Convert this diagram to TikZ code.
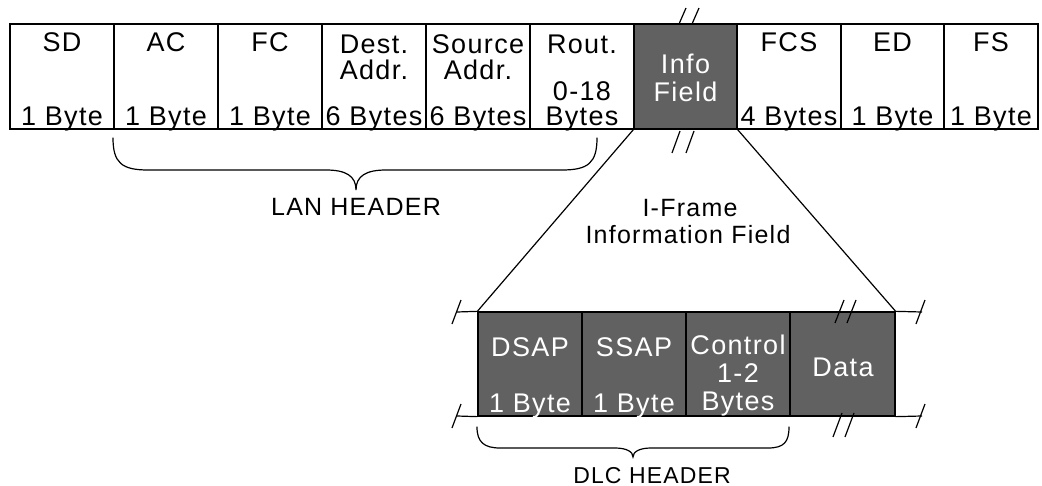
\documentclass[tikz,border=0pt]{standalone}
\usepackage{fontspec}
\setmainfont{Liberation Sans}[LetterSpace=5]
\begin{document}
\begin{tikzpicture}[x=1pt,y=-1pt,
  fieldbox/.style={draw=black, line width=1.3pt, minimum height=105pt, inner sep=0pt, fill=white},
  darkbox/.style={draw=black, line width=1.3pt, minimum height=104pt, inner sep=0pt, fill=black!62},
  lowbox/.style={darkbox, minimum width=104pt},
  lbl/.style={anchor=base, inner sep=0pt, font=\fontsize{27}{32}\selectfont},
  wlbl/.style={lbl, text=white},
  captext/.style={anchor=base, inner sep=0pt, font=\fontsize{25}{30}\selectfont},
  smallcap/.style={anchor=base, inner sep=0pt, font=\fontsize{23}{28}\selectfont},
  ln/.style={line width=1.2pt},
  brace/.style={line width=1.2pt, line cap=round}
]
\useasboundingbox (0,0) rectangle (1042,486);

% ---- top row ----
\node[fieldbox, minimum width=104pt] (sd)  at (62,76.5) {};
\node[fieldbox, minimum width=104pt] (ac)  at (166,76.5) {};
\node[fieldbox, minimum width=104pt] (fc)  at (270,76.5) {};
\node[fieldbox, minimum width=104pt] (da)  at (374,76.5) {};
\node[fieldbox, minimum width=104pt] (sa)  at (478,76.5) {};
\node[fieldbox, minimum width=104pt] (rt)  at (582,76.5) {};
\node[darkbox,  minimum width=103pt, minimum height=105pt] (info) at (685.5,76.5) {};
\node[fieldbox, minimum width=104pt] (fcs) at (789,76.5) {};
\node[fieldbox, minimum width=103pt] (ed)  at (892.5,76.5) {};
\node[fieldbox, minimum width=94pt]  (fs)  at (991,76.5) {};

\node[lbl] (sdt) at (62,52) {SD};
\node[lbl] (sdb) at (62,126) {1 Byte};
\node[lbl] (act) at (166,52) {AC};
\node[lbl] (acb) at (166,126) {1 Byte};
\node[lbl] (fct) at (270,52) {FC};
\node[lbl] (fcb) at (270,126) {1 Byte};
\node[lbl] (dat) at (374,54) {Dest.};
\node[lbl] (dam) at (374,80) {Addr.};
\node[lbl] (dab) at (374,126) {6 Bytes};
\node[lbl] (sat) at (478,54) {Source};
\node[lbl] (sam) at (478,80) {Addr.};
\node[lbl] (sab) at (478,126) {6 Bytes};
\node[lbl] (rtt) at (582,54) {Rout.};
\node[lbl] (rtm) at (582,101) {0-18};
\node[lbl] (rtb) at (582,126) {Bytes};
\node[wlbl] (inft) at (685.5,74) {Info};
\node[wlbl] (infb) at (685.5,102) {Field};
\node[lbl] (fcst) at (789,52) {FCS};
\node[lbl] (fcsb) at (789,126) {4 Bytes};
\node[lbl] (edt) at (892.5,52) {ED};
\node[lbl] (edb) at (892.5,126) {1 Byte};
\node[lbl] (fst) at (991,52) {FS};
\node[lbl] (fsb) at (991,126) {1 Byte};

% break marks on info field
\draw[ln] (679,24) -- (686,8);
\draw[ln] (692,24) -- (699,8);
\draw[ln] (672,153) -- (680,131);
\draw[ln] (686,153) -- (694,131);

% ---- LAN header brace ----
\coordinate (lanL) at (113,138);
\coordinate (lanR) at (597,138);
\coordinate (lanTip) at (356,190);
\draw[brace] (lanL) .. controls (113,163) and (122,170) .. (148,170) -- (326,170)
  .. controls (346,170) and (356,176) .. (lanTip)
  .. controls (356,176) and (366,170) .. (386,170) -- (562,170)
  .. controls (588,170) and (597,163) .. (lanR);
\node[captext] (lan) at (356,216) {LAN HEADER};

% ---- lower row ----
\node[lowbox] (dsap) at (530,364) {};
\node[lowbox] (ssap) at (634,364) {};
\node[lowbox] (ctrl) at (738,364) {};
\node[lowbox, minimum width=105pt] (data) at (842.5,364) {};

\node[wlbl] (dsapt) at (530,357) {DSAP};
\node[wlbl] (dsapb) at (530,412) {1 Byte};
\node[wlbl] (ssapt) at (634,357) {SSAP};
\node[wlbl] (ssapb) at (634,412) {1 Byte};
\node[wlbl] (ctrlt) at (738,355) {Control};
\node[wlbl] (ctrlm) at (738,383) {1-2};
\node[wlbl] (ctrlb) at (738,410) {Bytes};
\node[wlbl] (datat) at (843,377) {Data};

% expansion lines
\draw[ln] (info.south west) -- (dsap.north west);
\draw[ln] (info.south east) -- (data.north east);

\node[captext] (if1) at (690,217) {I-Frame};
\node[captext] (if2) at (688,244) {Information Field};

% extension lines with break ticks
\coordinate (elt) at (457,312);
\coordinate (elb) at (457,416);
\coordinate (ert) at (922,312);
\coordinate (erb) at (922,416);
\draw[ln] (elt) -- (dsap.north west);
\draw[ln] (elb) -- (dsap.south west);
\draw[ln] (data.north east) -- (ert);
\draw[ln] (data.south east) -- (erb);
\draw[ln] (452,324) -- (461,300);
\draw[ln] (452,428) -- (461,404);
\draw[ln] (916,324) -- (925,300);
\draw[ln] (916,428) -- (925,404);

% break marks on data
\draw[ln] (835,323) -- (844,300);
\draw[ln] (847,323) -- (856,300);
\draw[ln] (833,437) -- (842,413);
\draw[ln] (845,437) -- (854,413);

% ---- DLC header brace ----
\coordinate (dlcL) at (477,427);
\coordinate (dlcR) at (789,427);
\coordinate (dlcTip) at (633,457);
\draw[brace] (dlcL) .. controls (477,442) and (484,448) .. (500,448) -- (615,448)
  .. controls (627,448) and (633,452) .. (dlcTip)
  .. controls (633,452) and (639,448) .. (651,448) -- (768,448)
  .. controls (784,448) and (789,442) .. (dlcR);
\node[smallcap] (dlc) at (652,483) {DLC HEADER};
\end{tikzpicture}
\end{document}
